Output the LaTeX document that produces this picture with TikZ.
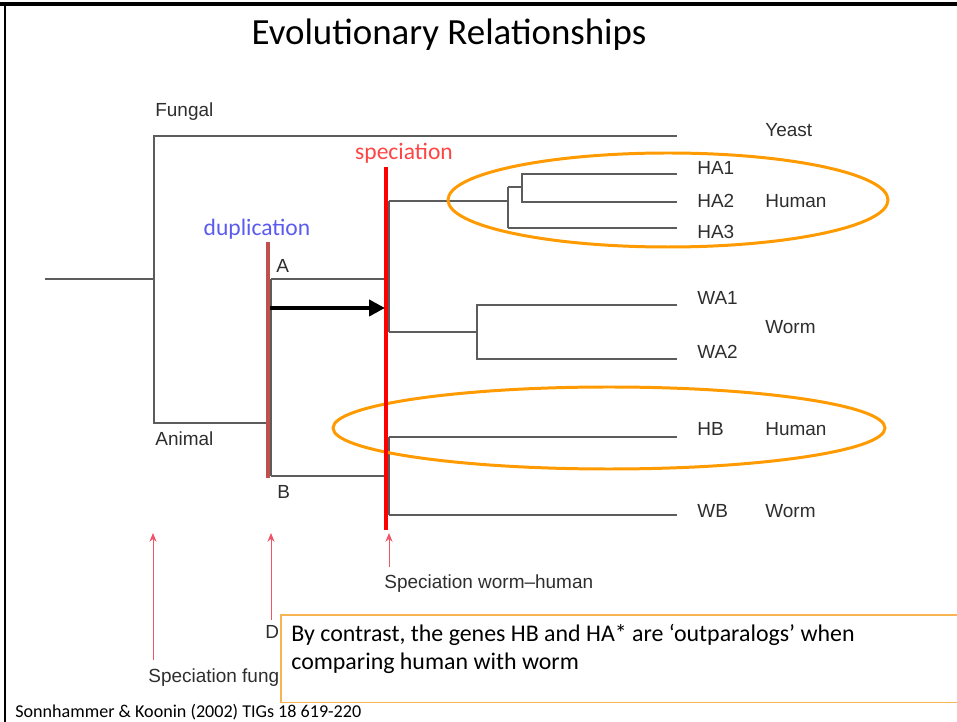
\documentclass[tikz,border=0pt]{standalone}
\usepackage{fontspec}
\setmainfont{Carlito}
\newfontfamily\helv{Liberation Sans}
\usetikzlibrary{positioning,arrows.meta,calc}
\definecolor{treegray}{HTML}{5C5C5C}
\definecolor{labelgray}{HTML}{2E2E2E}
\definecolor{dupred}{HTML}{C0504D}
\definecolor{specred}{HTML}{FF0000}
\definecolor{clade}{HTML}{FF9A00}
\definecolor{notebox}{HTML}{F7B552}
\definecolor{duptext}{HTML}{5B5BF0}
\definecolor{spectext}{HTML}{FF4444}
\definecolor{markred}{HTML}{EE5566}

\begin{document}
\begin{tikzpicture}[
    x=0.02cm, y=-0.02cm,
    branch/.style={draw=treegray, line width=0.75pt},
    treelabel/.style={font=\helv\fontsize{10.8}{12}\selectfont, text=labelgray, anchor=west, inner sep=0pt},
    eventtext/.style={font=\fontsize{13.4}{15}\selectfont, inner sep=0pt},
    cladering/.style={draw=clade, line width=1.7pt},
    eventmark/.style={draw=markred, line width=0.5pt, -{Stealth[length=5pt,width=4pt]}},
    notetext/.style={font=\fontsize{13.6}{16}\selectfont, align=left, anchor=west, inner sep=0pt}
]
    \useasboundingbox (0,0) rectangle (957,722);

    % slide frame and title
    \draw[black, line width=1.8pt] (0,4) -- (957,4);
    \draw[black, line width=1.2pt] (5,4) -- (5,722);
    \node[font=\fontsize{21}{25}\selectfont] (title) at (449,35) {Evolutionary Relationships};

    % tree junctions
    \coordinate (root)  at (45,279);
    \coordinate (rootj) at (154,279);
    \coordinate (fung)  at (154,136);
    \coordinate (anim)  at (154,423);
    \coordinate (animend) at (268,423);
    \coordinate (dupA)  at (271,279);
    \coordinate (dupB)  at (271,476);
    \coordinate (spA)   at (389,279);
    \coordinate (spAtop) at (389,201);
    \coordinate (spAbot) at (389,332);
    \coordinate (spB)   at (389,476);
    \coordinate (spBtop) at (389,437);
    \coordinate (spBbot) at (389,515);
    \coordinate (haj)   at (508,201);
    \coordinate (hajtop) at (508,187);
    \coordinate (hajbot) at (508,228);
    \coordinate (ha12top) at (522,174);
    \coordinate (ha12bot) at (522,202);
    \coordinate (waj)   at (477,332);
    \coordinate (wajtop) at (477,305);
    \coordinate (wajbot) at (477,359);

    % leaf ends
    \coordinate (yeast) at (677,136);
    \coordinate (ha1) at (677,174);
    \coordinate (ha2) at (677,202);
    \coordinate (ha3) at (677,228);
    \coordinate (wa1) at (677,305);
    \coordinate (wa2) at (677,359);
    \coordinate (hb)  at (677,437);
    \coordinate (wb)  at (677,515);

    % branches
    \draw[branch] (root) -- (rootj);
    \draw[branch] (yeast) -- (fung) -- (anim) -- (animend);
    \draw[branch] (dupA) -- (dupB);
    \draw[branch] (dupA) -- (spA);
    \draw[branch] (dupB) -- (spB);
    \draw[branch] (spAtop) -- (spAbot);
    \draw[branch] (spBtop) -- (spBbot);
    \draw[branch] (spAtop) -- (haj);
    \draw[branch] (hajtop) -- (hajbot);
    \draw[branch] (hajtop) -- (hajtop -| ha12top);
    \draw[branch] (ha1) -- (ha12top) -- (ha12bot) -- (ha2);
    \draw[branch] (hajbot) -- (ha3);
    \draw[branch] (spAbot) -- (waj);
    \draw[branch] (wa1) -- (wajtop) -- (wajbot) -- (wa2);
    \draw[branch] (spBtop) -- (hb);
    \draw[branch] (spBbot) -- (wb);

    % leaf and group labels
    \node[treelabel] (fungal) at (155,112) {Fungal};
    \node[treelabel] (animal) at (155,439) {Animal};
    \node[treelabel] (labA) at (276,266) {A};
    \node[treelabel] (labB) at (277,492) {B};
    \node[treelabel] (yeastlab) at (765,130) {Yeast};
    \node[treelabel] (ha1lab) at (697,168) {HA1};
    \node[treelabel] (ha2lab) at (697,201) {HA2};
    \node[treelabel] (ha3lab) at (697,232) {HA3};
    \node[treelabel] (wa1lab) at (697,298) {WA1};
    \node[treelabel] (wa2lab) at (697,352) {WA2};
    \node[treelabel] (hblab)  at (697,429) {HB};
    \node[treelabel] (wblab)  at (697,511) {WB};
    \node[treelabel] (human1) at (765,201) {Human};
    \node[treelabel] (worm1)  at (765,327) {Worm};
    \node[treelabel] (human2) at (765,429) {Human};
    \node[treelabel] (worm2)  at (765,511) {Worm};

    % orthologous groups
    \draw[cladering] (668,200) ellipse [x radius=220, y radius=47];
    \draw[cladering] (609,428) ellipse [x radius=276, y radius=41];

    % duplication and speciation events
    \coordinate (duptop) at (268,242);
    \coordinate (dupbot) at (268,478);
    \coordinate (spectop) at (386,167);
    \coordinate (specbot) at (386,530);
    \draw[dupred, line width=2.1pt] (duptop) -- (dupbot);
    \draw[specred, line width=2.3pt] (spectop) -- (specbot);
    \node[eventtext, text=duptext] (duplab) at (257,229) {duplication};
    \node[eventtext, text=spectext] (speclab) at (404,153) {speciation};

    \coordinate (arrfrom) at (270,308);
    \coordinate (arrto) at (385,308);
    \draw[black, line width=2.3pt, -{Triangle[length=9pt,width=9pt]}] (arrfrom) -- (arrto);

    % event markers along the bottom
    \coordinate (m1) at (153,660);
    \coordinate (m2) at (271,620);
    \coordinate (m3) at (389,567);
    \draw[eventmark] (m1) -- (m1 |- 0,533);
    \draw[eventmark] (m2) -- (m2 |- 0,533);
    \draw[eventmark] (m3) -- (m3 |- 0,533);
    \node[treelabel] (specwh) at (384,584) {Speciation worm–human};
    \node[treelabel] (duptxt) at (265,632) {Du};
    \node[treelabel] (specfa) at (148,678) {Speciation fung};

    % note box
    \node[fill=white, minimum width=13.52cm, minimum height=1.74cm, inner sep=0pt, anchor=north west] (note) at (281,615) {};
    \draw[notebox, line width=0.6pt] (note.north east) -- (note.north west) -- (note.south west) -- (note.south east);
    \node[notetext] (notetxt) at (291,649) {By contrast, the genes HB and HA* are ‘outparalogs’ when\\comparing human with worm};

    % source
    \node[font=\fontsize{10.3}{12}\selectfont, anchor=west, inner sep=0pt] (source) at (15,712) {Sonnhammer \& Koonin (2002) TIGs 18 619-220};
\end{tikzpicture}
\end{document}
